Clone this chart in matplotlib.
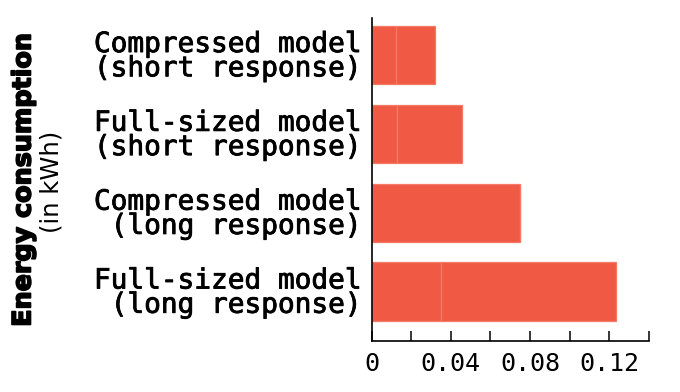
import matplotlib
matplotlib.use("Agg")
import matplotlib.pyplot as plt
import matplotlib.patheffects as pe
import numpy as np

categories = [
    "Compressed model\n(short response)",
    "Full-sized model\n(short response)",
    "Compressed model\n(long response)",
    "Full-sized model\n(long response)",
]
segment_a = [0.0122, 0.0130, 0.0752, 0.0351]
segment_b = [0.0197, 0.0324, 0.0, 0.0883]
xticks = [0, 0.02, 0.04, 0.06, 0.08, 0.10, 0.12, 0.14]
xtick_labels = ["0", "", "0.04", "", "0.08", "", "0.12", ""]

bar_color = "#F05A45"
edge_color = "#F47A66"

fig = plt.figure(figsize=(6.8, 3.92), dpi=100)
ax = fig.add_axes([0.5466, 0.1309, 0.954 - 0.5466, 0.9533 - 0.1309])

y = np.arange(len(categories))
ax.barh(y, segment_a, height=0.736, color=bar_color, edgecolor=edge_color, linewidth=0.9)
ax.barh(y, segment_b, left=segment_a, height=0.736, color=bar_color,
        edgecolor=edge_color, linewidth=0.9)

ax.set_xlim(0, 0.14)
ax.set_ylim(3.624, -0.466)

ax.set_yticks(y)
ax.set_yticklabels(categories, family="DejaVu Sans Mono", fontsize=20,
                   linespacing=0.83, ha="right", multialignment="right")
for lbl in ax.get_yticklabels():
    lbl.set_path_effects([pe.withStroke(linewidth=0.6, foreground="black")])
ax.tick_params(axis="y", length=0, pad=7)

ax.set_xticks(xticks)
ax.set_xticklabels(xtick_labels, family="DejaVu Sans Mono", fontsize=18)
ax.tick_params(axis="x", direction="in", length=7, width=1.1, pad=8, colors="black")

for s in ["top", "right"]:
    ax.spines[s].set_visible(False)
for s in ["left", "bottom"]:
    ax.spines[s].set_linewidth(1.2)
    ax.spines[s].set_color("black")

fig.text(23.5 / 680, 1 - 180 / 392, "Energy consumption", rotation=90,
         ha="center", va="center", fontsize=18.3, fontweight="bold",
         family="DejaVu Sans",
         path_effects=[pe.withStroke(linewidth=1.2, foreground="black")])
fig.text(51 / 680, 1 - 181.5 / 392, "(in kWh)", rotation=90,
         ha="center", va="center", fontsize=17.5,
         family="DejaVu Sans")

fig.savefig("out.png", dpi=100)
